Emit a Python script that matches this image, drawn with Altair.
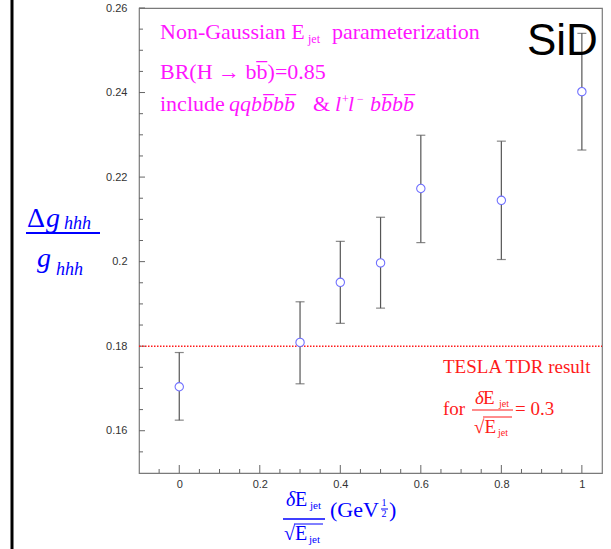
import altair as alt
import pandas as pd

# Jet energy resolution (GeV^1/2) and relative error on the Higgs self-coupling
resolution = [0.0, 0.3, 0.4, 0.5, 0.6, 0.8, 1.0]
dg_over_g = [0.1704, 0.1809, 0.1951, 0.1997, 0.2173, 0.2145, 0.2402]
err_low = [0.1625, 0.1711, 0.1854, 0.1890, 0.2045, 0.2005, 0.2264]
err_high = [0.1785, 0.1905, 0.2048, 0.2105, 0.2299, 0.2285, 0.2540]

tesla_reference = 0.18

x_major = [0, 0.2, 0.4, 0.6, 0.8, 1.0]
x_minor = [-0.05, 0.05, 0.1, 0.15, 0.25, 0.3, 0.35, 0.45, 0.5, 0.55, 0.65,
           0.7, 0.75, 0.85, 0.9, 0.95]
y_major = [0.16, 0.18, 0.2, 0.22, 0.24, 0.26]
y_minor = [0.155, 0.165, 0.17, 0.175, 0.185, 0.19, 0.195, 0.205, 0.21, 0.215,
           0.225, 0.23, 0.235, 0.245, 0.25, 0.255]

W, H = 463, 465
LEFT, TOP = 139, 8
SERIF = "Liberation Serif"
SANS = "Liberation Sans"
MAGENTA = "#ff14ff"
RED = "#ff1a1a"
BLUE = "#0000ff"

df = pd.DataFrame({"res": resolution, "val": dg_over_g, "lo": err_low, "hi": err_high})
one = pd.DataFrame({"k": [0]})

xs = alt.Scale(domain=[-0.1, 1.05], nice=False, zero=False)
ys = alt.Scale(domain=[0.15, 0.26], nice=False, zero=False)

base = alt.Chart(df)

points_x = alt.X("res:Q", scale=xs,
                 axis=alt.Axis(values=x_major, format="~g", tickSize=0, domain=False,
                               grid=False, title=None, labelFont=SANS, labelFontSize=11,
                               labelColor="#333333", labelPadding=5, labelFlush=False,
                               labelOverlap=False))
points_y = alt.Y("val:Q", scale=ys,
                 axis=alt.Axis(values=y_major, format=".2~f", tickSize=0, domain=False,
                               grid=False, title=None, labelFont=SANS, labelFontSize=11,
                               labelColor="#333333", labelPadding=12, labelFlush=False,
                               labelOverlap=False))

bars = base.mark_rule(color="#555555", strokeWidth=1.2).encode(
    x=alt.X("res:Q", scale=xs), y=alt.Y("lo:Q", scale=ys), y2="hi:Q")
cap_lo = base.mark_tick(color="#555555", thickness=1.2, size=9, orient="horizontal").encode(
    x=alt.X("res:Q", scale=xs), y=alt.Y("lo:Q", scale=ys))
cap_hi = base.mark_tick(color="#555555", thickness=1.2, size=9, orient="horizontal").encode(
    x=alt.X("res:Q", scale=xs), y=alt.Y("hi:Q", scale=ys))
points = base.mark_point(shape="circle", size=70, filled=False, color="#7070ff",
                         fill="white", fillOpacity=1, strokeWidth=1.1).encode(
    x=points_x, y=points_y)

tesla_line = alt.Chart(pd.DataFrame({"v": [tesla_reference]})).mark_rule(
    color=RED, strokeWidth=1.5, strokeDash=[1.5, 1.5]).encode(
    y=alt.Y("v:Q", scale=ys), x=alt.value(0), x2=alt.value(W))

# inward-pointing tick marks
def xticks(vals, length):
    return alt.Chart(pd.DataFrame({"t": vals})).mark_rule(color="#666666", strokeWidth=1).encode(
        x=alt.X("t:Q", scale=xs), y=alt.value(H), y2=alt.value(H - length))

def yticks(vals, length):
    return alt.Chart(pd.DataFrame({"t": vals})).mark_rule(color="#666666", strokeWidth=1).encode(
        y=alt.Y("t:Q", scale=ys), x=alt.value(0), x2=alt.value(length))


def label(txt, x, y, size, color, italic=False, font=SERIF, align="left"):
    return alt.Chart(one).mark_text(
        text=txt, fontSize=size, color=color, font=font, align=align,
        baseline="alphabetic", fontStyle="italic" if italic else "normal").encode(
        x=alt.value(x - LEFT), y=alt.value(y - TOP))


def hline(x1, x2, y, color, width=1.5):
    return alt.Chart(one).mark_rule(color=color, strokeWidth=width).encode(
        x=alt.value(x1 - LEFT), x2=alt.value(x2 - LEFT), y=alt.value(y - TOP))


OB = "b\u0305"  # b with overbar

annotations = [
    # header text
    label("Non-Gaussian E", 160, 39, 22, MAGENTA),
    label("jet", 308, 43, 12, MAGENTA),
    label("parameterization", 332, 39, 22, MAGENTA),
    label("BR(H \u2192 b" + OB + ")=0.85", 160, 79, 22, MAGENTA),
    label("include", 160, 111, 22, MAGENTA),
    label("qqb" + OB + "b" + OB, 229, 111, 22, MAGENTA, italic=True),
    label("&", 313, 111, 22, MAGENTA),
    label("l", 335, 111, 22, MAGENTA, italic=True),
    label("+", 342, 103, 12, MAGENTA),
    label("l", 348, 111, 22, MAGENTA, italic=True),
    label("\u2212", 357, 103, 12, MAGENTA),
    label("b" + OB + "b" + OB, 370, 111, 22, MAGENTA, italic=True),
    label("SiD", 527, 55, 44, "black", font=SANS),
    # y title: Δg_hhh / g_hhh
    label("\u0394", 27, 227, 28, BLUE),
    label("g", 46, 227, 28, BLUE, italic=True),
    label("hhh", 64, 229, 18, BLUE, italic=True),
    hline(26, 100, 233, BLUE, 2),
    label("g", 37, 267, 28, BLUE, italic=True),
    label("hhh", 56, 275, 18, BLUE, italic=True),
    # x title: δE_jet / √E_jet (GeV^1/2)
    label("\u03b4", 286, 506, 20, BLUE, italic=True),
    label("E", 295, 506, 20, BLUE),
    label("jet", 310, 509, 11, BLUE),
    hline(283, 325, 519, BLUE, 1.3),
    label("\u221aE", 284, 540, 20, BLUE),
    hline(294, 323, 524, BLUE, 1),
    label("jet", 309, 543, 11, BLUE),
    label("(GeV", 330, 517, 22, BLUE),
    label("1", 384, 506, 10, BLUE, align="center"),
    hline(381, 388, 509, BLUE, 1),
    label("2", 384, 517, 10, BLUE, align="center"),
    label(")", 389, 517, 22, BLUE),
    # TESLA TDR annotation
    label("TESLA TDR result", 443, 373, 19, RED),
    label("for", 443, 415, 19, RED),
    label("\u03b4", 475, 404, 19, RED, italic=True),
    label("E", 483, 404, 19, RED),
    label("jet", 499, 407, 10, RED),
    hline(472, 513, 410, RED, 1.2),
    label("\u221aE", 474, 433, 19, RED),
    hline(483, 512, 417, RED, 1),
    label("jet", 498, 436, 10, RED),
    label("= 0.3", 515, 415, 19, RED),
]

left_bar = alt.Chart(one).mark_rule(color="black", strokeWidth=3).encode(
    x=alt.value(12 - LEFT), y=alt.value(-TOP), y2=alt.value(549 - TOP))

chart = alt.layer(
    xticks(x_minor, 4), xticks(x_major, 8), yticks(y_minor, 4), yticks(y_major, 6),
    tesla_line, bars, cap_lo, cap_hi, points, left_bar, *annotations
).properties(
    width=W, height=H,
    autosize=alt.AutoSizeParams(type="none"),
    padding={"left": LEFT, "top": TOP, "right": 611 - LEFT - W, "bottom": 549 - TOP - H},
    background="white",
).configure_view(stroke="#7a7a7a", strokeWidth=1.2)

chart.save("out.html", embed_options={"renderer": "svg", "actions": False})
